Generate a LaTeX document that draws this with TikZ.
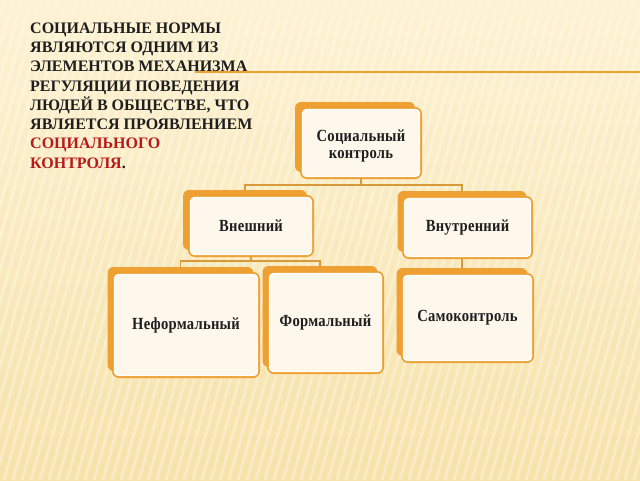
\documentclass[tikz,border=0pt]{standalone}
\usepackage{fontspec}
\setmainfont{Liberation Serif}
\newfontfamily\boxfont[LetterSpace=1.5,FakeStretch=0.86]{Liberation Serif}
\usetikzlibrary{positioning}
\definecolor{bgtop}{HTML}{FDF2D2}
\definecolor{bgbot}{HTML}{F6E2AA}
\definecolor{boxorange}{HTML}{EFA032}
\definecolor{boxfill}{HTML}{FDF7EC}
\definecolor{linkcol}{HTML}{D8993A}
\definecolor{titlered}{HTML}{B81A1A}
\definecolor{titledark}{HTML}{1E1E1E}
\pgfdeclarelayer{backdrop}
\pgfdeclarelayer{links}
\pgfsetlayers{backdrop,links,main}
\tikzset{
  backbox/.style={draw=none, fill=boxorange, rounded corners=6pt, inner sep=0pt},
  frontbox/.style={draw=boxorange, line width=2pt, fill=boxfill, rounded corners=6pt, inner sep=0pt,
    font=\boxfont\bfseries\fontsize{17}{16.5}\selectfont, text=titledark, align=center},
  boxtext/.style={inner sep=0pt, font=\boxfont\bfseries\fontsize{17}{16.5}\selectfont, text=titledark, align=center},
  innerline/.style={draw=white, line width=1.3pt, rounded corners=4pt},
  link/.style={draw=linkcol, line width=1.3pt},
  stripe/.style={draw=white, line width=3pt, opacity=0.3},
  titletext/.style={font=\bfseries\fontsize{16}{19.3}\selectfont, text=titledark, align=left, inner sep=0pt}
}
\begin{document}
\begin{tikzpicture}[x=1pt,y=-1pt]
\useasboundingbox (0,0) rectangle (640,480);
\begin{pgfonlayer}{backdrop}
  \shade[top color=bgtop, bottom color=bgbot] (0,0) rectangle (640,480);
  \begin{scope}
    \clip (0,0) rectangle (640,480);
    \foreach \s in {-140,-131,...,640} {
      \draw[stripe] (\s,480) -- (\s+135,0);
    }
  \end{scope}
  \fill[bgtop, opacity=0.6] (0,0) rectangle (640,22);
\end{pgfonlayer}

% title
\node[titletext, anchor=north west] (title) at (30,22.4) {%
СОЦИАЛЬНЫЕ НОРМЫ\\
ЯВЛЯЮТСЯ ОДНИМ ИЗ\\
ЭЛЕМЕНТОВ МЕХАНИЗМА\\
РЕГУЛЯЦИИ ПОВЕДЕНИЯ\\
ЛЮДЕЙ В ОБЩЕСТВЕ, ЧТО\\
ЯВЛЯЕТСЯ ПРОЯВЛЕНИЕМ\\
\textcolor{titlered}{СОЦИАЛЬНОГО}\\
\textcolor{titlered}{КОНТРОЛЯ}.};

\coordinate (ruleL) at (195,72);
\coordinate (ruleR) at (640,72);
\begin{pgfonlayer}{links}
  \draw[boxorange, line width=1.5pt] (ruleL) -- (ruleR);
\end{pgfonlayer}

% back boxes
\node[backbox, minimum width=120, minimum height=70] (socB) at (355,137) {};
\node[backbox, minimum width=124, minimum height=60] (vnB) at (245,220) {};
\node[backbox, minimum width=129, minimum height=61] (vtB) at (462,221.5) {};
\node[backbox, minimum width=146, minimum height=104] (nefB) at (180.5,319) {};
\node[backbox, minimum width=115, minimum height=101] (formB) at (320,316.5) {};
\node[backbox, minimum width=131, minimum height=88] (samB) at (462,312) {};

% front boxes
\node[frontbox, minimum width=120, minimum height=70] (soc) at (361,143) {};
\node[frontbox, minimum width=124, minimum height=60] (vn) at (251,226) {Внешний};
\node[frontbox, minimum width=129, minimum height=61] (vt) at (467.5,227.5) {Внутренний};
\node[frontbox, minimum width=146, minimum height=104] (nef) at (186,325) {Неформальный};
\node[frontbox, minimum width=115, minimum height=101] (form) at (325.5,322.5) {Формальный};
\node[frontbox, minimum width=131, minimum height=88] (sam) at (467.5,318) {Самоконтроль};

\foreach \n in {soc,vn,vt,nef,form,sam} {
  \draw[innerline] ([shift={(2.5,-2.5)}]\n.south west) rectangle ([shift={(-2.5,2.5)}]\n.north east);
}
\node[boxtext] (socT) at (361,146) {Социальный\\контроль};

% connectors
\begin{pgfonlayer}{links}
  \draw[link] (soc.south) -- ++(0,6) coordinate (j1);
  \draw[link] (vnB.north) |- (j1) -| (vtB.north);
  \draw[link] (vn.south) -- ++(0,4) coordinate (j2);
  \draw[link] (nefB.north) |- (j2) -| (formB.north);
  \draw[link] (vtB.south) -- (samB.north);
\end{pgfonlayer}
\end{tikzpicture}
\end{document}
